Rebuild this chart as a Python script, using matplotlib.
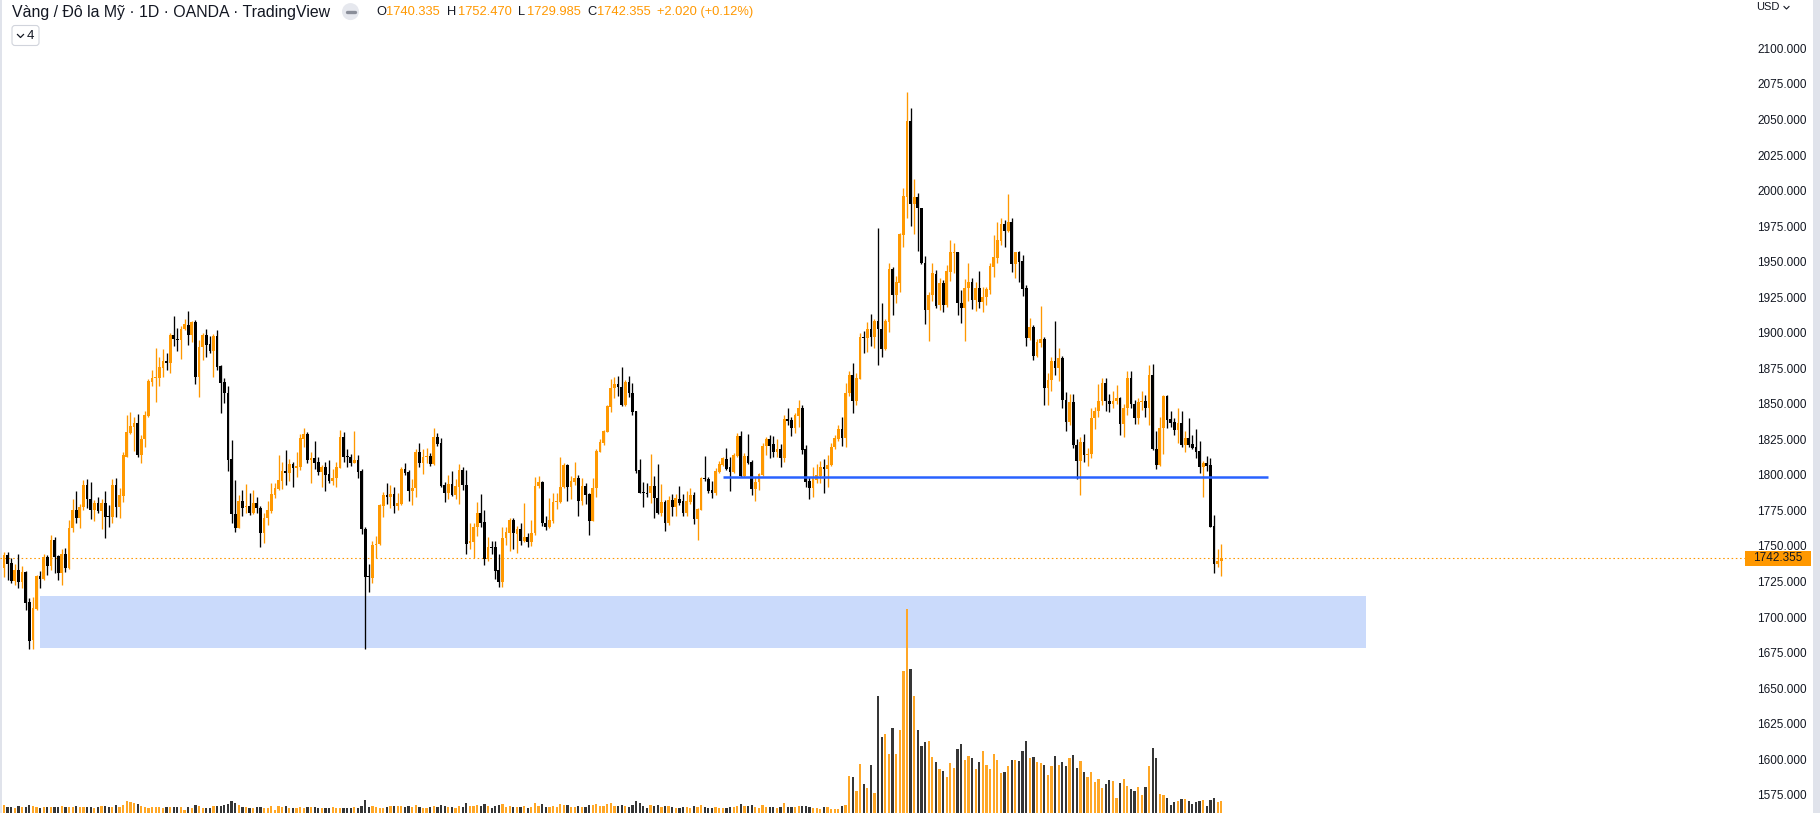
import matplotlib
matplotlib.use('Agg')
import matplotlib.pyplot as plt
import matplotlib.patches as mpatches
from matplotlib.lines import Line2D
from matplotlib.transforms import Affine2D, blended_transform_factory
import numpy as np

W, H = 1820, 813
plt.rcParams['font.family'] = ['Liberation Sans', 'DejaVu Sans']

# daily candles, XAU/USD (OANDA), oldest first
opens = [
    1735.8, 1744.7, 1739.3, 1726.6, 1734.1, 1725.9, 1733.0, 1711.6, 1684.9, 1706.7,
    1729.9, 1728.0, 1743.0, 1736.9, 1755.2, 1744.0, 1732.3, 1745.4, 1735.8, 1763.9,
    1776.3, 1771.0, 1778.2, 1793.9, 1783.9, 1776.3, 1781.0, 1775.6, 1781.0, 1772.0,
    1771.7, 1793.9, 1778.2, 1786.4, 1813.8, 1830.2, 1835.0, 1837.3, 1815.0, 1826.0,
    1842.5, 1866.6, 1869.0, 1869.0, 1876.5, 1881.2, 1880.0, 1899.4, 1896.4, 1895.9,
    1903.4, 1906.5, 1899.4, 1908.4, 1870.1, 1890.8, 1899.4, 1893.1, 1888.4, 1898.7,
    1877.6, 1866.6, 1858.4, 1812.0, 1773.3, 1763.9, 1782.7, 1778.5, 1779.1, 1774.5,
    1781.0, 1778.0, 1760.4, 1770.5, 1775.9, 1786.9, 1790.9, 1796.7, 1803.8, 1802.1,
    1808.7, 1805.6, 1806.8, 1826.3, 1829.8, 1811.5, 1812.7, 1809.9, 1803.3, 1806.4,
    1801.4, 1796.7, 1798.6, 1806.1, 1827.9, 1814.3, 1813.4, 1809.6, 1811.5, 1804.0,
    1762.7, 1729.9, 1728.7, 1751.7, 1752.2, 1779.2, 1786.9, 1785.7, 1787.6, 1779.2,
    1780.6, 1805.2, 1803.1, 1790.0, 1791.6, 1817.4, 1809.6, 1813.4, 1814.3, 1808.7,
    1827.9, 1823.7, 1793.9, 1788.5, 1794.6, 1786.9, 1792.8, 1804.5, 1794.0, 1752.9,
    1754.1, 1764.1, 1774.5, 1768.1, 1741.6, 1750.5, 1750.5, 1734.1, 1725.9, 1756.4,
    1760.4, 1769.3, 1759.4, 1763.0, 1754.8, 1757.1, 1754.1, 1759.9, 1793.2, 1796.3,
    1767.4, 1764.6, 1768.8, 1782.2, 1782.2, 1792.3, 1808.0, 1792.3, 1796.3, 1799.1,
    1782.9, 1793.2, 1787.6, 1768.8, 1791.6, 1817.4, 1823.7, 1831.4, 1849.0, 1861.9,
    1864.7, 1862.6, 1850.2, 1866.6, 1858.9, 1846.0, 1804.4, 1789.0, 1788.0, 1788.0,
    1793.2, 1784.5, 1774.4, 1781.7, 1767.4, 1783.3, 1778.2, 1784.0, 1782.6, 1774.4,
    1782.2, 1786.9, 1770.0, 1776.3, 1799.1, 1797.9, 1790.4, 1788.5, 1803.3, 1808.0,
    1812.2, 1806.8, 1803.3, 1814.3, 1828.4, 1800.2, 1814.3, 1810.1, 1790.9, 1796.3,
    1800.9, 1821.3, 1826.2, 1822.7, 1817.3, 1819.2, 1813.1, 1840.3, 1839.6, 1834.2,
    1842.4, 1847.8, 1819.2, 1796.7, 1791.6, 1797.4, 1800.2, 1806.8, 1804.9, 1808.0,
    1820.4, 1826.2, 1833.0, 1826.7, 1858.4, 1871.3, 1853.2, 1868.5, 1898.3, 1897.6,
    1903.4, 1897.8, 1909.5, 1903.4, 1889.3, 1908.8, 1945.8, 1927.6, 1936.2, 1969.8,
    1996.7, 2050.2, 1991.6, 1996.7, 1988.5, 1950.3, 1917.0, 1927.6, 1942.4, 1920.5,
    1935.8, 1920.5, 1943.5, 1956.9, 1957.6, 1922.2, 1918.2, 1932.3, 1937.0, 1924.1,
    1932.3, 1922.9, 1925.9, 1931.1, 1947.5, 1953.4, 1965.6, 1977.5, 1972.8, 1978.7,
    1949.4, 1957.6, 1951.5, 1932.3, 1897.6, 1905.3, 1884.7, 1894.1, 1896.4, 1862.0,
    1868.0, 1881.0, 1876.0, 1883.0, 1854.0, 1838.0, 1852.0, 1822.0, 1811.0, 1824.0,
    1815.0, 1816.0, 1841.0, 1846.0, 1853.0, 1866.0, 1853.0, 1851.0, 1853.0, 1855.0,
    1837.0, 1848.0, 1869.0, 1851.0, 1841.0, 1852.0, 1853.0, 1847.9, 1871.3, 1819.2,
    1808.0, 1833.8, 1856.8, 1840.4, 1838.0, 1832.6, 1837.8, 1822.0, 1827.2, 1822.8,
    1820.4, 1818.1, 1806.8, 1809.6, 1808.0, 1765.1, 1738.4, 1740.335,
]
highs = [
    1747.0, 1747.0, 1742.3, 1738.3, 1745.4, 1736.9, 1733.4, 1714.2, 1714.9, 1730.6,
    1733.4, 1745.4, 1744.7, 1758.7, 1757.1, 1744.7, 1748.9, 1749.8, 1769.3, 1784.1,
    1789.7, 1780.6, 1797.4, 1798.1, 1795.8, 1783.4, 1785.7, 1783.9, 1789.7, 1779.9,
    1798.1, 1798.6, 1791.6, 1817.4, 1843.2, 1845.0, 1842.0, 1843.6, 1829.1, 1846.0,
    1868.5, 1874.8, 1890.0, 1884.2, 1889.4, 1887.0, 1900.6, 1912.8, 1904.1, 1905.8,
    1910.7, 1916.3, 1909.5, 1910.0, 1895.9, 1900.6, 1903.7, 1898.7, 1900.1, 1903.0,
    1878.3, 1869.0, 1863.6, 1825.6, 1797.4, 1786.9, 1790.4, 1794.6, 1788.5, 1790.4,
    1785.2, 1779.1, 1774.0, 1782.7, 1795.0, 1795.0, 1815.0, 1810.3, 1818.5, 1812.2,
    1810.3, 1816.9, 1829.8, 1834.3, 1831.4, 1816.9, 1824.9, 1813.4, 1808.0, 1810.3,
    1811.5, 1805.0, 1810.3, 1832.6, 1831.5, 1819.0, 1815.7, 1832.2, 1815.0, 1805.0,
    1764.6, 1738.4, 1754.5, 1758.0, 1780.5, 1789.2, 1795.6, 1794.0, 1792.3, 1788.5,
    1806.4, 1809.2, 1804.5, 1798.2, 1819.0, 1823.7, 1819.0, 1820.2, 1816.7, 1834.3,
    1830.3, 1826.8, 1796.3, 1801.0, 1804.0, 1797.9, 1808.7, 1806.4, 1804.5, 1767.0,
    1767.4, 1782.2, 1787.6, 1776.3, 1757.1, 1754.5, 1754.8, 1745.4, 1764.1, 1764.1,
    1770.9, 1770.5, 1765.1, 1767.4, 1781.0, 1760.4, 1769.3, 1799.8, 1800.3, 1797.0,
    1772.1, 1784.5, 1788.0, 1788.5, 1813.9, 1809.2, 1808.5, 1800.3, 1810.3, 1801.0,
    1798.6, 1795.1, 1788.5, 1798.6, 1819.0, 1826.1, 1832.6, 1850.2, 1868.3, 1870.0,
    1870.6, 1876.7, 1867.8, 1870.6, 1865.9, 1846.2, 1812.2, 1796.2, 1795.5, 1815.7,
    1800.2, 1808.7, 1794.6, 1783.3, 1786.2, 1787.3, 1787.6, 1793.2, 1787.6, 1789.7,
    1791.6, 1789.2, 1777.5, 1799.8, 1814.3, 1799.3, 1797.0, 1805.6, 1811.0, 1813.8,
    1819.7, 1813.4, 1816.2, 1830.2, 1832.1, 1816.2, 1829.8, 1811.5, 1799.3, 1802.1,
    1823.7, 1827.4, 1829.1, 1828.4, 1826.0, 1822.7, 1843.1, 1847.8, 1842.0, 1844.8,
    1853.7, 1850.2, 1822.0, 1799.8, 1806.8, 1808.7, 1810.8, 1812.0, 1815.0, 1823.2,
    1829.1, 1836.1, 1842.0, 1865.4, 1874.3, 1879.5, 1872.4, 1900.6, 1902.5, 1908.8,
    1914.2, 1910.4, 1974.4, 1921.7, 1910.4, 1950.3, 1947.5, 1940.9, 1971.4, 2002.6,
    2070.6, 2058.9, 2008.9, 1999.1, 1988.9, 1955.0, 1929.9, 1950.3, 1945.2, 1939.3,
    1938.1, 1948.7, 1966.3, 1964.4, 1958.1, 1931.1, 1938.8, 1949.9, 1939.3, 1936.5,
    1944.5, 1933.0, 1933.4, 1949.9, 1969.8, 1978.7, 1982.0, 1980.3, 1998.4, 1982.0,
    1958.1, 1958.8, 1955.7, 1934.6, 1911.6, 1906.5, 1896.4, 1919.8, 1898.0, 1873.0,
    1884.0, 1909.0, 1890.0, 1885.0, 1859.0, 1858.0, 1858.0, 1826.0, 1828.0, 1830.0,
    1820.0, 1848.0, 1849.0, 1865.0, 1869.0, 1869.0, 1858.0, 1860.0, 1864.0, 1856.0,
    1851.0, 1874.0, 1874.0, 1854.0, 1855.0, 1860.0, 1857.0, 1878.0, 1879.0, 1831.9,
    1842.0, 1857.2, 1857.2, 1846.0, 1840.8, 1848.3, 1846.0, 1831.9, 1840.8, 1829.1,
    1833.3, 1825.1, 1811.0, 1814.3, 1812.7, 1772.8, 1748.9, 1752.47,
]
lows = [
    1728.9, 1727.1, 1725.2, 1723.6, 1721.7, 1721.7, 1706.0, 1678.3, 1678.3, 1706.0,
    1721.7, 1727.1, 1730.6, 1734.1, 1731.8, 1727.1, 1723.6, 1733.0, 1734.6, 1760.6,
    1767.0, 1763.9, 1776.3, 1777.5, 1770.0, 1768.8, 1774.0, 1763.0, 1756.4, 1764.6,
    1767.0, 1771.2, 1771.0, 1782.2, 1813.4, 1829.8, 1818.0, 1813.8, 1809.2, 1820.4,
    1842.0, 1863.8, 1852.5, 1863.8, 1870.1, 1874.8, 1872.9, 1891.7, 1888.2, 1882.3,
    1903.0, 1892.4, 1894.8, 1865.0, 1856.1, 1881.9, 1884.2, 1886.5, 1870.1, 1874.8,
    1844.8, 1851.4, 1804.0, 1767.4, 1761.1, 1763.9, 1772.1, 1774.0, 1772.8, 1773.5,
    1774.5, 1750.5, 1753.3, 1765.8, 1774.0, 1785.0, 1790.4, 1790.9, 1793.9, 1797.0,
    1792.3, 1799.3, 1804.5, 1820.9, 1809.2, 1795.5, 1805.2, 1801.0, 1792.8, 1790.0,
    1795.5, 1794.0, 1792.8, 1806.1, 1810.3, 1806.4, 1807.3, 1809.2, 1798.6, 1759.5,
    1678.3, 1718.4, 1724.8, 1742.3, 1751.7, 1771.2, 1780.6, 1777.5, 1774.5, 1776.3,
    1779.9, 1801.0, 1782.9, 1779.9, 1785.3, 1806.4, 1801.7, 1809.2, 1807.5, 1808.0,
    1821.5, 1792.3, 1782.2, 1784.1, 1786.0, 1784.1, 1780.6, 1790.4, 1745.4, 1748.7,
    1742.3, 1758.1, 1764.6, 1737.6, 1740.7, 1745.4, 1727.6, 1722.0, 1722.4, 1751.7,
    1747.7, 1748.7, 1746.3, 1751.7, 1754.1, 1750.5, 1751.0, 1758.8, 1791.6, 1765.1,
    1762.3, 1763.4, 1767.4, 1776.8, 1781.5, 1791.6, 1782.9, 1783.8, 1793.9, 1772.4,
    1779.9, 1780.6, 1758.8, 1768.3, 1785.3, 1817.0, 1822.0, 1831.0, 1845.5, 1855.0,
    1856.5, 1849.5, 1849.5, 1855.6, 1843.1, 1802.6, 1788.0, 1778.6, 1785.7, 1781.0,
    1770.4, 1773.5, 1772.3, 1761.8, 1765.8, 1772.1, 1772.1, 1779.8, 1772.1, 1772.1,
    1780.3, 1766.5, 1755.2, 1776.3, 1797.0, 1788.0, 1785.0, 1786.9, 1802.1, 1807.3,
    1804.4, 1789.9, 1802.6, 1813.8, 1799.3, 1799.3, 1808.7, 1786.9, 1782.9, 1790.4,
    1800.2, 1815.0, 1812.7, 1813.4, 1813.3, 1806.3, 1810.3, 1836.1, 1828.4, 1830.2,
    1835.0, 1815.5, 1792.3, 1783.8, 1785.7, 1795.0, 1795.0, 1788.5, 1792.3, 1807.3,
    1819.0, 1825.1, 1821.3, 1820.9, 1856.5, 1844.8, 1850.2, 1868.2, 1887.0, 1887.7,
    1891.7, 1890.0, 1878.3, 1883.7, 1888.9, 1901.8, 1913.5, 1922.2, 1929.9, 1961.6,
    1981.5, 1976.1, 1970.5, 1958.7, 1949.4, 1907.1, 1895.4, 1923.6, 1918.2, 1917.0,
    1915.4, 1918.9, 1937.7, 1943.3, 1913.5, 1907.6, 1895.5, 1923.6, 1917.5, 1916.6,
    1918.2, 1915.4, 1920.5, 1928.3, 1940.5, 1949.9, 1962.8, 1961.1, 1972.1, 1944.0,
    1939.8, 1937.0, 1927.1, 1891.9, 1895.9, 1881.9, 1883.7, 1891.2, 1850.0, 1850.0,
    1860.0, 1871.0, 1867.0, 1848.0, 1832.0, 1836.0, 1820.0, 1798.0, 1787.0, 1810.0,
    1807.0, 1813.0, 1833.0, 1842.0, 1850.0, 1846.0, 1845.0, 1848.0, 1851.0, 1829.0,
    1828.0, 1843.0, 1848.0, 1837.0, 1837.0, 1847.0, 1842.0, 1836.0, 1818.5, 1805.2,
    1807.3, 1815.7, 1833.8, 1835.0, 1829.1, 1823.7, 1820.9, 1817.4, 1820.9, 1819.0,
    1812.7, 1802.6, 1785.3, 1804.0, 1764.1, 1732.3, 1736.5, 1729.985,
]
closes = [
    1744.7, 1738.3, 1726.6, 1734.1, 1725.9, 1733.0, 1711.1, 1684.4, 1707.2, 1729.9,
    1728.0, 1743.0, 1736.9, 1755.2, 1743.5, 1732.3, 1745.4, 1735.8, 1763.9, 1776.3,
    1771.0, 1778.2, 1793.9, 1783.9, 1776.3, 1781.0, 1775.6, 1781.0, 1771.7, 1771.7,
    1793.9, 1778.2, 1786.9, 1815.0, 1831.4, 1835.4, 1837.3, 1815.0, 1826.0, 1843.2,
    1867.1, 1869.4, 1869.8, 1876.7, 1881.2, 1880.0, 1899.4, 1896.4, 1896.0, 1903.4,
    1906.9, 1899.4, 1908.8, 1870.1, 1890.8, 1899.4, 1892.4, 1888.4, 1898.7, 1877.2,
    1865.9, 1858.4, 1811.5, 1773.3, 1763.9, 1782.7, 1778.0, 1779.3, 1774.5, 1781.0,
    1778.0, 1760.4, 1770.5, 1776.3, 1787.6, 1792.0, 1797.4, 1803.8, 1802.1, 1808.7,
    1805.6, 1807.3, 1826.8, 1829.8, 1811.5, 1812.7, 1809.6, 1803.3, 1806.4, 1801.0,
    1796.7, 1799.1, 1806.4, 1827.9, 1813.9, 1813.4, 1809.6, 1811.5, 1803.3, 1762.7,
    1729.5, 1729.0, 1751.7, 1752.4, 1779.9, 1786.9, 1785.7, 1787.6, 1779.2, 1781.5,
    1805.2, 1802.6, 1790.0, 1791.6, 1817.4, 1809.6, 1813.9, 1814.3, 1808.7, 1827.9,
    1822.8, 1793.2, 1788.5, 1794.6, 1786.9, 1793.2, 1804.5, 1794.0, 1752.4, 1754.8,
    1764.6, 1774.5, 1767.4, 1741.6, 1750.5, 1749.4, 1733.7, 1725.9, 1756.4, 1761.1,
    1769.3, 1759.9, 1763.0, 1754.8, 1757.1, 1754.1, 1759.9, 1793.2, 1796.3, 1767.0,
    1764.6, 1769.3, 1782.2, 1782.9, 1792.8, 1808.0, 1792.3, 1797.0, 1799.1, 1782.9,
    1793.2, 1786.9, 1768.8, 1791.6, 1818.1, 1824.4, 1831.9, 1849.5, 1861.9, 1864.7,
    1862.6, 1850.2, 1866.6, 1858.4, 1845.5, 1804.0, 1788.5, 1788.0, 1787.5, 1793.2,
    1784.5, 1774.4, 1781.7, 1767.4, 1783.3, 1778.2, 1784.5, 1781.0, 1774.4, 1782.6,
    1786.9, 1770.0, 1776.8, 1799.1, 1797.9, 1789.9, 1788.5, 1804.0, 1808.7, 1812.7,
    1805.2, 1803.3, 1815.0, 1828.4, 1800.2, 1814.3, 1809.6, 1790.9, 1796.3, 1801.6,
    1821.3, 1826.2, 1821.3, 1817.3, 1819.2, 1813.1, 1840.3, 1839.1, 1834.2, 1843.1,
    1847.8, 1818.5, 1796.2, 1791.6, 1798.6, 1800.9, 1806.8, 1804.9, 1808.0, 1820.9,
    1826.7, 1833.0, 1826.7, 1858.4, 1871.3, 1853.2, 1868.9, 1897.8, 1897.1, 1903.4,
    1897.8, 1909.5, 1903.4, 1889.3, 1909.5, 1945.8, 1927.6, 1936.9, 1970.5, 1997.2,
    2050.2, 1991.6, 1996.7, 1988.5, 1949.8, 1917.0, 1927.6, 1942.8, 1920.1, 1935.8,
    1920.5, 1944.5, 1957.6, 1957.6, 1922.2, 1918.2, 1932.3, 1937.0, 1924.1, 1932.3,
    1922.9, 1925.9, 1931.8, 1948.0, 1954.1, 1966.3, 1977.5, 1972.8, 1978.7, 1949.4,
    1957.6, 1951.0, 1931.8, 1897.6, 1905.3, 1884.7, 1894.8, 1896.4, 1862.0, 1868.0,
    1881.0, 1876.0, 1883.0, 1854.0, 1838.0, 1852.0, 1822.0, 1811.0, 1824.0, 1815.0,
    1816.0, 1841.0, 1846.0, 1853.0, 1866.0, 1853.0, 1851.0, 1853.0, 1855.0, 1837.0,
    1848.0, 1869.0, 1851.0, 1841.0, 1852.0, 1853.0, 1848.0, 1871.3, 1819.0, 1808.0,
    1834.3, 1856.8, 1839.7, 1837.8, 1832.6, 1837.8, 1822.0, 1827.2, 1822.0, 1819.7,
    1817.4, 1806.8, 1809.6, 1807.3, 1764.6, 1738.4, 1740.335, 1742.355,
]
volumes = [
    24, 18, 18, 15, 21, 18, 18, 24, 21, 18, 15, 18, 18, 18, 18, 18, 21, 18, 18, 18,
    21, 18, 18, 18, 18, 15, 18, 21, 21, 18, 18, 24, 18, 24, 36, 33, 30, 27, 21, 18,
    15, 18, 18, 18, 15, 18, 18, 18, 18, 18, 9, 18, 15, 24, 21, 15, 15, 15, 21, 21,
    21, 24, 27, 36, 30, 24, 18, 18, 15, 15, 18, 18, 15, 15, 21, 9, 21, 18, 21, 15,
    15, 15, 18, 15, 18, 18, 18, 15, 15, 15, 15, 18, 15, 15, 15, 15, 15, 18, 15, 21,
    39, 18, 21, 18, 15, 15, 18, 21, 21, 21, 21, 18, 21, 18, 24, 18, 15, 15, 18, 21,
    18, 24, 21, 18, 18, 15, 21, 18, 30, 21, 21, 24, 21, 27, 21, 15, 21, 24, 27, 18,
    21, 18, 18, 18, 21, 15, 18, 30, 21, 27, 18, 18, 21, 18, 27, 24, 24, 18, 18, 21,
    18, 18, 24, 24, 27, 21, 21, 27, 30, 21, 21, 24, 21, 18, 24, 36, 30, 21, 15, 24,
    21, 24, 18, 21, 21, 18, 15, 15, 18, 18, 15, 21, 18, 24, 18, 15, 15, 18, 15, 15,
    15, 18, 18, 21, 27, 21, 21, 24, 18, 15, 24, 18, 18, 18, 15, 18, 30, 18, 18, 18,
    21, 21, 21, 18, 15, 15, 12, 18, 18, 12, 12, 12, 21, 24, 111, 108, 66, 147, 87, 75,
    144, 60, 351, 228, 237, 177, 255, 177, 249, 426, 612, 432, 351, 249, 201, 213, 216, 168, 153, 132,
    126, 108, 150, 135, 192, 207, 159, 171, 165, 132, 153, 186, 144, 132, 177, 159, 120, 123, 141, 159,
    159, 156, 186, 216, 165, 168, 153, 150, 144, 114, 141, 171, 144, 153, 141, 165, 174, 135, 156, 123,
    108, 123, 93, 102, 75, 87, 99, 96, 45, 90, 102, 81, 72, 66, 78, 54, 78, 141, 195, 165,
    57, 54, 45, 24, 33, 36, 42, 42, 36, 27, 33, 36, 39, 21, 39, 45, 33, 36,
]
price_ticks = [2100, 2075, 2050, 2025, 2000, 1975, 1950, 1925, 1900, 1875, 1850, 1825,
               1800, 1775, 1750, 1725, 1700, 1675, 1650, 1625, 1600, 1575]
zone_low, zone_high = 1679.3, 1715.9       # blue demand box
zone_start, zone_end = 10.1, 377.1
level = 1799.3                             # blue support line
level_start, level_end = 199.0, 350.0

ORANGE = '#ff9800'
DARK = '#131722'

o, h, l, c = map(np.array, (opens, highs, lows, closes))
idx = np.arange(len(c))
up = c >= o
candle_col = np.where(up, ORANGE, '#000000')
vol_col = np.where(up, '#ffa726', '#363636')

fig = plt.figure(figsize=(W / 100, H / 100), dpi=100, facecolor='white')
px = Affine2D().scale(1 / W, 1 / H) + fig.transFigure   # pixel coords, origin bottom-left

ax = fig.add_axes([0, 0, 1745 / W, 1])
ax.set_xlim(-1.107, 482.0)
ax.set_ylim(1563.2, 2135.1)
vax = ax.twinx()
vax.set_ylim(0, 2439)
ax.set_zorder(2)
vax.set_zorder(1)
ax.patch.set_visible(False)
ax.axis('off')
vax.axis('off')

# zone box sits under volume and candles
vax.add_patch(mpatches.Rectangle((zone_start, zone_low), zone_end - zone_start,
                                 zone_high - zone_low, transform=ax.transData,
                                 facecolor='#cadafb', edgecolor='none', zorder=0))
vax.bar(idx, volumes, width=0.62, color=vol_col, linewidth=0, zorder=1)

wicks = ax.vlines(idx, l, h, colors=candle_col, linewidth=0.95, zorder=3)
body = np.maximum(np.abs(c - o), 0.7)
ax.bar(idx, body, bottom=np.minimum(o, c), width=0.76, color=candle_col, linewidth=0, zorder=4)

ax.hlines(level, level_start, level_end, colors='#2962ff', linewidth=1.8, zorder=5)
ax.axhline(c[-1], color=ORANGE, linewidth=0.8, linestyle=(0, (1.4, 2.4)), zorder=2)

# price scale
scale_tr = blended_transform_factory(px, ax.transData)
for p in price_ticks:
    ax.text(1757, p, f'{p:.3f}', transform=scale_tr, fontsize=8.5, color=DARK,
            va='center', ha='left', clip_on=False)
ppu = H / (2135.1 - 1563.2)
ax.add_patch(mpatches.Rectangle((1745, c[-1] - 7.8 / ppu), 66, 15.6 / ppu,
                                transform=scale_tr, facecolor=ORANGE, edgecolor='none',
                                clip_on=False, zorder=10))
ax.text(1778, c[-1], f'{c[-1]:.3f}', transform=scale_tr, fontsize=8.5, color=DARK,
        va='center', ha='center', clip_on=False, zorder=11)

# borders
fig.patches.append(mpatches.Rectangle((0, 0), 2, H, transform=px, facecolor='#e0e3eb', edgecolor='none'))
fig.patches.append(mpatches.Rectangle((1813, 0), 7, H, transform=px, facecolor='#e0e3eb', edgecolor='none'))

# legend header
fig.text(11.5, H - 13, 'Vàng / Đô la Mỹ · 1D · OANDA · TradingView', transform=px,
         fontsize=11.4, color=DARK, va='center', ha='left')
fig.patches.append(mpatches.Ellipse((350.5, H - 11.6), 17, 17, transform=px,
                                    facecolor='#e6e8ee', edgecolor='none'))
fig.lines.append(Line2D([346.5, 354.5], [H - 11.6, H - 11.6], transform=px, color='#8a8e99',
                        linewidth=2.4, solid_capstyle='round'))
ohlc = [(376, 'O', DARK), (386, f'{o[-1]:.3f}', ORANGE), (447, 'H', DARK),
        (458, f'{h[-1]:.3f}', ORANGE), (518, 'L', DARK), (527, f'{l[-1]:.3f}', ORANGE),
        (587, 'C', DARK), (597, f'{c[-1]:.3f}', ORANGE)]
for x, s, col in ohlc:
    fig.text(x, H - 12.5, s, transform=px, fontsize=9.3, color=col, va='center', ha='left')
chg = c[-1] - o[-1]
fig.text(657, H - 12.5, f'+{chg:.3f} (+{chg / o[-1] * 100:.2f}%)', transform=px,
         fontsize=9.3, color=ORANGE, va='center', ha='left')

fig.patches.append(mpatches.FancyBboxPatch((12, H - 45.5), 27, 20, transform=px,
                                           boxstyle='round,pad=0,rounding_size=3',
                                           facecolor='white', edgecolor='#d1d4dc', linewidth=0.8))
fig.lines.append(Line2D([17.5, 20.5, 23.5], [H - 34.5, H - 37.5, H - 34.5], transform=px,
                        color=DARK, linewidth=0.9))
fig.text(27, H - 36, '4', transform=px, fontsize=9.5, color=DARK, va='center', ha='left')

fig.text(1756, H - 7.5, 'USD', transform=px, fontsize=8, color=DARK, va='center', ha='left')
fig.lines.append(Line2D([1784, 1786.5, 1789], [H - 6.5, H - 9, H - 6.5], transform=px,
                        color=DARK, linewidth=0.8))

fig.savefig('out.png', dpi=100, facecolor='white')
